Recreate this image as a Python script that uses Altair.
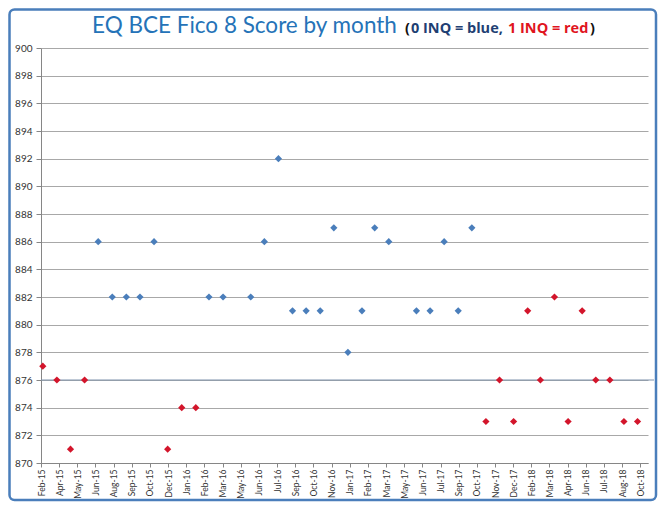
import altair as alt
import pandas as pd

# ---- data ----
months = [
    "2015-03", "2015-04", "2015-05", "2015-06", "2015-07", "2015-08", "2015-09",
    "2015-10", "2015-11", "2015-12", "2016-01", "2016-02", "2016-03", "2016-04",
    "2016-06", "2016-07", "2016-08", "2016-09", "2016-10", "2016-11", "2016-12",
    "2017-01", "2017-02", "2017-03", "2017-04", "2017-06", "2017-07", "2017-08",
    "2017-09", "2017-10", "2017-11", "2017-12", "2018-01", "2018-02", "2018-03",
    "2018-04", "2018-05", "2018-06", "2018-07", "2018-08", "2018-09", "2018-10",
]
scores = [
    877, 876, 871, 876, 886, 882, 882,
    882, 886, 871, 874, 874, 882, 882,
    882, 886, 892, 881, 881, 881, 887,
    878, 881, 887, 886, 881, 881, 886,
    881, 887, 873, 876, 873, 881, 876,
    882, 873, 881, 876, 876, 873, 873,
]
inquiries = [
    1, 1, 1, 1, 0, 0, 0,
    0, 0, 1, 1, 1, 0, 0,
    0, 0, 0, 0, 0, 0, 0,
    0, 0, 0, 0, 0, 0, 0,
    0, 0, 1, 1, 1, 1, 1,
    1, 1, 1, 1, 1, 1, 1,
]

# x-axis tick dates (Excel date axis, one tick every 40 days)
tick_dates = [
    "2015-02-25", "2015-04-06", "2015-05-16", "2015-06-25", "2015-08-04",
    "2015-09-13", "2015-10-23", "2015-12-02", "2016-01-11", "2016-02-20",
    "2016-03-31", "2016-05-10", "2016-06-19", "2016-07-29", "2016-09-07",
    "2016-10-17", "2016-11-26", "2017-01-05", "2017-02-14", "2017-03-26",
    "2017-05-05", "2017-06-14", "2017-07-24", "2017-09-02", "2017-10-12",
    "2017-11-21", "2017-12-31", "2018-02-09", "2018-03-21", "2018-04-30",
    "2018-06-09", "2018-07-19", "2018-08-28", "2018-10-07",
]
x_domain = ["2015-02-25", "2018-10-24"]
y_ticks = list(range(870, 901, 2))
threshold = 876

title_main = "EQ BCE Fico 8 Score by month"
title_parts = ["(", "0 INQ = blue,", "1 INQ = red", ")"]

# ---- build ----
def dt(s):
    y, m, d = (int(v) for v in s.split("-"))
    return alt.DateTime(year=y, month=m, date=d)

df = pd.DataFrame({
    "date": [m + "-01T00:00:00" for m in months],
    "score": scores,
    "inq": inquiries,
})

W, H = 607, 415
BLUE = "#4a7ebb"
RED = "#d3152b"
FONT = "Lato"

x_enc = alt.X(
    "date:T",
    scale=alt.Scale(domain=[dt(x_domain[0]), dt(x_domain[1])]),
    axis=alt.Axis(
        values=[dt(t) for t in tick_dates], tickCount=len(tick_dates),
        format="%b-%y", labelAngle=-90,
        title=None, grid=False, tickSize=4, labelPadding=2, labelFontSize=8.5,
        labelFont=FONT, labelColor="#333333", domainColor="#868686",
        tickColor="#868686", labelOverlap=False, labelFlush=False,
    ),
)
y_enc = alt.Y(
    "score:Q",
    scale=alt.Scale(domain=[870, 900], nice=False, zero=False),
    axis=alt.Axis(
        values=y_ticks, tickCount=len(y_ticks), title=None, grid=True,
        gridColor="#a8a8a8",
        tickSize=5, labelPadding=4, labelFontSize=10, labelFont=FONT,
        labelColor="#333333", domainColor="#868686", tickColor="#868686",
        labelOverlap=False, labelFlush=False,
    ),
)

points = alt.Chart(df).mark_point(
    shape="diamond", filled=True, size=52, opacity=1
).encode(
    x=x_enc,
    y=y_enc,
    color=alt.Color("inq:N", scale=alt.Scale(domain=[0, 1], range=[BLUE, RED]), legend=None),
)

one = pd.DataFrame({"k": [0]})

rule = alt.Chart(one).mark_rule(color="#7f93ad", strokeWidth=1).encode(
    y=alt.datum(threshold), x=alt.value(0), x2=alt.value(613)
)

t_main = alt.Chart(one).mark_text(
    text=title_main, align="left", baseline="alphabetic", font=FONT,
    fontSize=22.5, color="#2573b8"
).encode(x=alt.value(51), y=alt.value(-15.5))

part_x = [364, 370, 467, 549]
part_col = ["#111111", "#1f3f73", "#e0141e", "#111111"]
parts = [
    alt.Chart(one).mark_text(
        text=t, align="left", baseline="alphabetic", font="Open Sans",
        fontSize=14.5, fontWeight="bold", color=c
    ).encode(x=alt.value(px), y=alt.value(-15.5))
    for t, c, px in zip(title_parts, part_col, part_x)
]

frame = alt.Chart(one).mark_rect(
    fill="white", fillOpacity=0, stroke="#4a7ebb", strokeWidth=2.5, cornerRadius=5
).encode(x=alt.value(-31.5), x2=alt.value(615), y=alt.value(-38.5), y2=alt.value(452))

chart = alt.layer(rule, points, t_main, *parts, frame).properties(
    width=W, height=H,
    autosize="none",
    padding={"left": 33, "top": 40, "right": 10, "bottom": 39},
    background="white",
).configure_view(stroke=None)

chart.save("out.html", embed_options={"renderer": "svg", "actions": False})
